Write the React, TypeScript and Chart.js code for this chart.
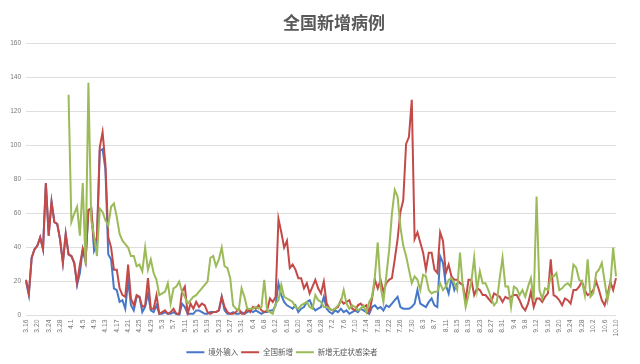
import React, { useEffect, useRef } from 'react';
import { Chart, registerables } from 'chart.js';

Chart.register(...registerables);

// [month, first day, last day]
const MONTH_RANGES: [number, number, number][] = [
  [3, 16, 31], [4, 1, 30], [5, 1, 31], [6, 1, 30], [7, 1, 31], [8, 1, 31], [9, 1, 30], [10, 1, 10],
];
const CATEGORIES: string[] = MONTH_RANGES.flatMap(([m, a, b]) =>
  Array.from({ length: b - a + 1 }, (_, k) => `${m}.${a + k}`)
);
const TICK_STEP = 4;

const SERIES_NAMES = ['境外输入', '全国新增', '新增无症状感染者'];
const SERIES_COLORS = ['#4677C8', '#C44A47', '#9BBB59'];

// 境外输入 (ends mid-August)
const IMPORTED: number[] = [
  20, 12, 34, 39, 41, 46, 39, 78, 47, 67,
  55, 54, 45, 31, 48, 36, 35, 31, 18, 25,
  39, 32, 62, 63, 38, 42, 97, 98, 86, 36,
  33, 16, 15, 8, 9, 4, 21, 6, 3, 11,
  11, 2, 5, 13, 3, 2, 6, 1, 1, 2,
  1, 1, 2, 1, 0, 7, 5, 1, 1, 1,
  3, 3, 2, 1, 1, 2, 2, 2, 3, 11,
  3, 1, 1, 2, 1, 1, 2, 1, 2, 3,
  2, 3, 2, 1, 2, 2, 3, 3, 6, 19,
  12, 8, 6, 5, 4, 6, 2, 4, 5, 8,
  9, 5, 3, 4, 5, 11, 4, 2, 1, 3,
  2, 4, 2, 3, 1, 2, 3, 2, 4, 3,
  2, 1, 5, 6, 4, 5, 3, 6, 5, 7,
  9, 11, 5, 4, 4, 4, 5, 7, 15, 7,
  6, 5, 8, 10, 6, 5, 35, 31, 18, 13,
  22, 15, 19,
];

// 全国新增
const NATIONAL: number[] = [
  21, 13, 34, 39, 41, 46, 39, 78, 47, 67,
  55, 54, 45, 31, 48, 36, 35, 31, 19, 30,
  39, 32, 62, 63, 42, 46, 99, 108, 89, 46,
  40, 27, 27, 16, 12, 11, 30, 10, 6, 12,
  11, 5, 6, 22, 4, 4, 12, 1, 2, 3,
  1, 2, 4, 1, 1, 14, 17, 1, 7, 4,
  8, 5, 7, 6, 2, 1, 2, 2, 3, 11,
  5, 2, 1, 1, 2, 4, 1, 1, 4, 2,
  5, 4, 6, 3, 2, 3, 10, 8, 11, 57,
  49, 40, 44, 28, 30, 27, 22, 22, 16, 19,
  13, 17, 21, 16, 13, 20, 7, 4, 3, 4,
  5, 9, 7, 8, 9, 4, 3, 6, 7, 5,
  6, 2, 10, 21, 16, 21, 14, 19, 21, 22,
  33, 45, 61, 68, 101, 105, 127, 45, 49, 43,
  37, 27, 37, 37, 27, 25, 49, 44, 25, 30,
  23, 21, 21, 19, 18, 9, 21, 21, 12, 16,
  15, 12, 12, 10, 8, 13, 12, 11, 8, 11,
  10, 11, 12, 12, 9, 5, 3, 7, 14, 5,
  10, 10, 8, 11, 13, 33, 12, 11, 9, 6,
  10, 9, 7, 15, 15, 17, 20, 15, 12, 13,
  15, 20, 15, 9, 6, 12, 20, 15, 22,
];

// 新增无症状感染者 (reported from 3.31)
const ASYMPTOMATIC_START = 15;
const ASYMPTOMATIC: number[] = [
  130, 55, 60, 64, 47,
  78, 30, 137, 56, 47, 35, 63, 61, 56, 53,
  64, 66, 58, 48, 44, 42, 40, 35, 35, 29,
  30, 26, 40, 27, 33, 25, 21, 12, 13, 14,
  19, 7, 16, 17, 20, 14, 11, 7, 9, 11,
  12, 14, 16, 18, 20, 34, 35, 29, 33, 40,
  29, 28, 22, 6, 4, 3, 16, 11, 4, 4,
  4, 5, 4, 5, 21, 3, 2, 1, 7, 9,
  18, 11, 10, 9, 8, 5, 4, 6, 7, 8,
  5, 4, 12, 9, 8, 5, 5, 4, 3, 4,
  6, 8, 15, 7, 4, 6, 5, 3, 4, 6,
  2, 8, 11, 23, 43, 17, 8, 23, 38, 60,
  74, 70, 52, 41, 35, 27, 19, 23, 21, 15,
  24, 23, 15, 13, 14, 14, 19, 15, 17, 21,
  22, 19, 15, 37, 17, 5, 12, 20, 34, 15,
  26, 19, 19, 15, 10, 6, 8, 22, 34, 17,
  17, 5, 17, 16, 12, 15, 11, 17, 22, 9,
  70, 15, 10, 16, 15, 23, 23, 25, 15, 16,
  18, 19, 17, 30, 28, 21, 20, 12, 33, 11,
  13, 25, 27, 31, 20, 9, 18, 40, 23,
];

const Y_MIN = 0;
const Y_MAX = 160;
const Y_STEP = 20;

const TITLE_SHIFT = 26;
const LEGEND_SHIFT = -26;
const LEGEND_DROP = 2;

const shiftBoxes = {
  id: 'shiftBoxes',
  afterLayout(chart: any) {
    const t = chart.titleBlock;
    if (t) {
      t.left += TITLE_SHIFT;
      t.right += TITLE_SHIFT;
    }
    const l = chart.legend;
    if (l) {
      l.left += LEGEND_SHIFT;
      l.right += LEGEND_SHIFT;
      l.top += LEGEND_DROP;
      l.bottom += LEGEND_DROP;
    }
  },
};

const FONT = "'Liberation Sans', 'Noto Sans CJK SC', sans-serif";
const CJK_FONT = "'Noto Sans CJK SC', 'Liberation Sans', sans-serif";

export default function App() {
  const ref = useRef<HTMLCanvasElement | null>(null);

  useEffect(() => {
    if (!ref.current) return;
    const asym = [...Array(ASYMPTOMATIC_START).fill(null), ...ASYMPTOMATIC];
    const seriesData = [IMPORTED, NATIONAL, asym];
    const orders = [3, 2, 1];
    const chart = new Chart(ref.current, {
      type: 'line',
      data: {
        labels: CATEGORIES,
        datasets: SERIES_NAMES.map((name, k) => ({
          label: name,
          data: seriesData[k] as any,
          borderColor: SERIES_COLORS[k],
          backgroundColor: SERIES_COLORS[k],
          borderWidth: 2,
          pointRadius: 0,
          pointHoverRadius: 0,
          tension: 0,
          fill: false,
          order: orders[k],
        })),
      },
      options: {
        animation: false,
        responsive: false,
        devicePixelRatio: 1,
        layout: { padding: { left: 0, right: 24, top: 0, bottom: 0 } },
        scales: {
          x: {
            type: 'category',
            offset: false,
            grid: { display: false, drawTicks: false },
            border: { display: false },
            ticks: {
              autoSkip: false,
              maxRotation: 90,
              minRotation: 90,
              padding: 4,
              color: '#7a7a7a',
              font: { size: 6.8, family: FONT },
              callback: (_v: any, i: number) => (i % TICK_STEP === 0 ? CATEGORIES[i] : ''),
            },
            afterFit: (s: any) => {
              s.height = 28;
            },
          },
          y: {
            min: Y_MIN,
            max: Y_MAX,
            grid: { color: '#dedede', lineWidth: 1, drawTicks: false },
            border: { display: false },
            ticks: {
              stepSize: Y_STEP,
              padding: 5,
              color: '#7a7a7a',
              font: { size: 6.5, family: FONT },
            },
            afterFit: (s: any) => {
              s.width = 26;
            },
          },
        },
        plugins: {
          title: {
            display: true,
            text: '全国新增病例',
            color: '#595959',
            font: { size: 17, weight: 'bold', family: CJK_FONT },
            padding: { top: 12, bottom: 11.3 },
          },
          legend: {
            position: 'bottom',
            labels: {
              boxWidth: 18,
              boxHeight: 0,
              padding: 3,
              color: '#595959',
              font: { size: 7.5, family: CJK_FONT },
              sort: (a: any, b: any) => a.datasetIndex - b.datasetIndex,
            },
          },
          tooltip: { enabled: false },
        },
      } as any,
      plugins: [shiftBoxes],
    });
    return () => chart.destroy();
  }, []);

  return (
    <div style={{ position: 'fixed', left: 0, top: 0, width: 640, height: 364, background: '#fff' }}>
      <canvas ref={ref} width={640} height={364} style={{ display: 'block' }} />
    </div>
  );
}
